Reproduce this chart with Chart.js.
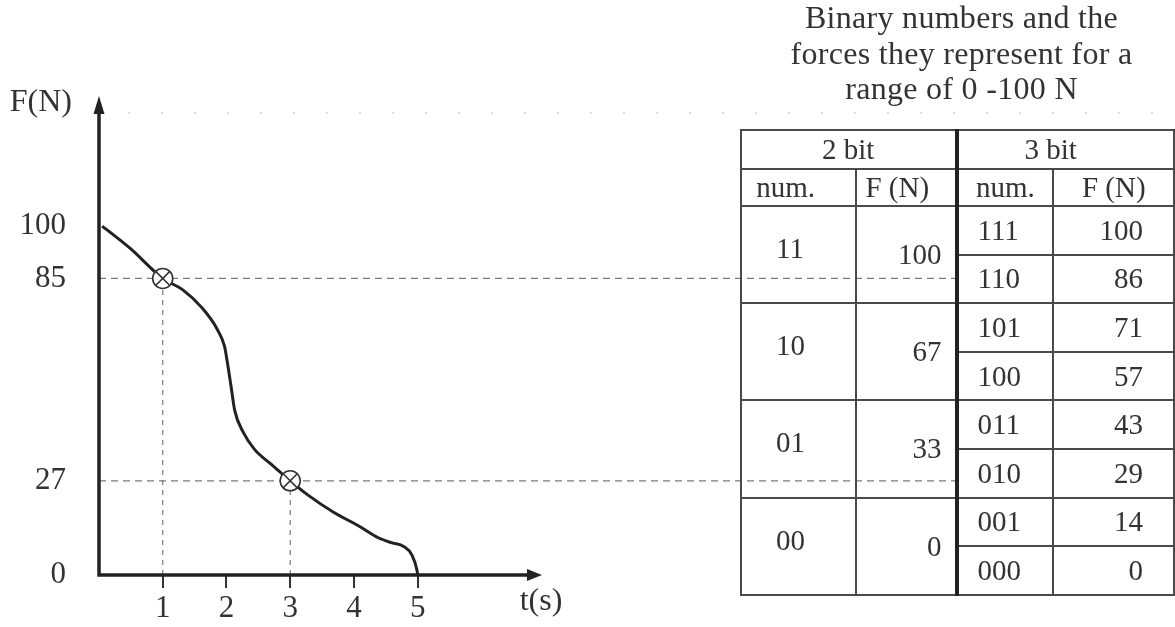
<!DOCTYPE html>
<html>
<head>
<meta charset="utf-8">
<script src="https://cdn.jsdelivr.net/npm/chart.js@4.4.1/dist/chart.umd.min.js"></script>
<style>
  html, body { margin: 0; padding: 0; background: #fff; }
  #wrap { position: relative; width: 1175px; height: 627px; overflow: hidden; }
  #forceChart { position: absolute; left: 0; top: 0; }
  #caption {
    position: absolute; left: 761px; top: 0; width: 401px;
    text-align: center; color: #333;
    font: 32px/35.5px 'Liberation Serif', 'Times New Roman', serif;
    letter-spacing: 0.3px;
  }
  #bits {
    position: absolute; left: 740px; top: 129px;
    border-collapse: collapse; table-layout: fixed;
    font: 29px 'Liberation Serif', 'Times New Roman', serif; color: #333;
  }
  #bits td { border: 2px solid #4a4a4a; padding: 0; vertical-align: middle; white-space: nowrap; line-height: 1; }
  #bits td.mid { border-left: 4px solid #222; }
  #bits tr.head { height: 39px; }
  #bits tr.sub { height: 37px; }
  #bits tr.row { height: 48.6px; }
  .h2 { text-align: center; }
  .h3 { text-align: center; padding-right: 30px !important; }
  .s2n { text-align: center; padding-right: 26px !important; }
  .s2f { text-align: center; padding-right: 17px !important; }
  .s3n, .s3f { text-align: center; }
  .n2 { text-align: left; padding-left: 34px !important; padding-bottom: 12px !important; }
  .f2 { text-align: right; padding-right: 13px !important; }
  .n3 { text-align: left; padding-left: 19px !important; }
  .f3 { text-align: right; padding-right: 30px !important; }
</style>
</head>
<body>
<div id="wrap">
  <canvas id="forceChart" width="1175" height="627"></canvas>
  <div id="caption">Binary numbers and the<br>forces they represent for a<br>range of 0 -100 N</div>
  <table id="bits">
    <colgroup>
      <col style="width:116px"><col style="width:101px"><col style="width:98px"><col style="width:122px">
    </colgroup>
    <tbody id="bitsBody">
      <tr class="head"><td class="h2" colspan="2">2 bit</td><td class="h3 mid" colspan="2">3 bit</td></tr>
      <tr class="sub"><td class="s2n">num.</td><td class="s2f">F (N)</td><td class="s3n mid">num.</td><td class="s3f">F (N)</td></tr>
    </tbody>
  </table>
</div>
<script>
// force curve
const forceT = [0.05, 0.49, 1.00, 1.31, 1.61, 1.85, 1.97, 2.01, 2.07, 2.13, 2.26, 2.44, 2.69, 3.00, 3.28, 3.68, 4.07, 4.39, 4.60, 4.78, 4.91, 4.99, 5.00];
const forceN = [100, 93.6, 85, 81.8, 76.7, 70.6, 65.5, 61.4, 54.3, 47.1, 41, 36, 31.9, 27, 22.9, 18, 14.1, 10.6, 9.2, 8.2, 5.7, 1.3, 0];

// sampled points (circled crosses)
const markT = [1, 3];
const markN = [85, 27];

// axis ticks
const tickT = [1, 2, 3, 4, 5];
const tickN = [0, 27, 85, 100];

// table
const twoBitNums = ['11', '10', '01', '00'];
const twoBitForces = [100, 67, 33, 0];
const threeBitNums = ['111', '110', '101', '100', '011', '010', '001', '000'];
const threeBitForces = [100, 86, 71, 57, 43, 29, 14, 0];

const ARROW_T = 6.95;   // where the t axis arrow ends

// build table rows
const body = document.getElementById('bitsBody');
threeBitNums.forEach((num, i) => {
  const tr = document.createElement('tr');
  tr.className = 'row';
  if (i % 2 === 0) {
    const g = i / 2;
    tr.innerHTML += '<td class="n2" rowspan="2">' + twoBitNums[g] + '</td>' +
                    '<td class="f2" rowspan="2">' + twoBitForces[g] + '</td>';
  }
  tr.innerHTML += '<td class="n3 mid">' + num + '</td><td class="f3">' + threeBitForces[i] + '</td>';
  body.appendChild(tr);
});

const ink = '#222';
const serif = "'Liberation Serif', 'Times New Roman', serif";
Chart.defaults.font.family = serif;

const sketchAxes = {
  id: 'sketchAxes',
  beforeDatasetsDraw(chart) {
    const { ctx, chartArea } = chart;
    const xs = chart.scales.x, ys = chart.scales.y;
    const x0 = xs.getPixelForValue(0);
    const wrap = document.getElementById('wrap').getBoundingClientRect();
    const edge = document.querySelector('#bits td.mid').getBoundingClientRect().left - wrap.left + 1;
    ctx.save();
    // faint dotted line along the top (scan)
    ctx.strokeStyle = '#d0d0d0';
    ctx.lineWidth = 1.5;
    ctx.setLineDash([2, 31]);
    ctx.beginPath();
    ctx.moveTo(x0 - 4, chartArea.top + 16);
    ctx.lineTo(chart.width, chartArea.top + 16);
    ctx.stroke();
    // horizontal guides into the table
    ctx.strokeStyle = '#7a7a7a';
    ctx.lineWidth = 1.2;
    ctx.setLineDash([7, 5]);
    markN.forEach(f => {
      const y = ys.getPixelForValue(f);
      ctx.beginPath();
      ctx.moveTo(x0, y);
      ctx.lineTo(edge, y);
      ctx.stroke();
    });
    ctx.restore();
  },
  afterDatasetsDraw(chart) {
    const { ctx, chartArea } = chart;
    const xs = chart.scales.x, ys = chart.scales.y;
    const x0 = xs.getPixelForValue(0), y0 = ys.getPixelForValue(0);
    const xTip = xs.getPixelForValue(ARROW_T);
    const yTip = chartArea.top - 1;
    ctx.save();
    ctx.strokeStyle = ink;
    ctx.fillStyle = ink;
    ctx.lineWidth = 3.5;
    ctx.beginPath();
    ctx.moveTo(x0, y0 + 1.5);
    ctx.lineTo(x0, yTip + 14);
    ctx.moveTo(x0 - 1.5, y0);
    ctx.lineTo(xTip - 12, y0);
    ctx.stroke();
    // arrow heads
    ctx.beginPath();
    ctx.moveTo(x0, yTip);
    ctx.lineTo(x0 - 5.5, yTip + 18);
    ctx.lineTo(x0 + 5.5, yTip + 18);
    ctx.closePath();
    ctx.fill();
    ctx.beginPath();
    ctx.moveTo(xTip, y0);
    ctx.lineTo(xTip - 15, y0 - 6);
    ctx.lineTo(xTip - 15, y0 + 6);
    ctx.closePath();
    ctx.fill();
    // axis names
    ctx.fillStyle = '#333';
    ctx.font = '32px ' + serif;
    ctx.textBaseline = 'middle';
    ctx.textAlign = 'center';
    ctx.fillText('t(s)', xTip - 1, y0 + 27);
    ctx.textAlign = 'right';
    ctx.fillText('F(N)', x0 - 27, chartArea.top + 6);
    ctx.restore();
  }
};

const guideSets = markT.map((t, i) => ({
  data: [{ x: t, y: 0 }, { x: t, y: markN[i] }],
  borderColor: '#7a7a7a',
  borderWidth: 1.2,
  borderDash: [5, 5],
  pointRadius: 0,
  order: 3
}));

const marks = markT.map((t, i) => ({ x: t, y: markN[i] }));

new Chart(document.getElementById('forceChart'), {
  type: 'line',
  data: {
    datasets: [
      {
        data: forceT.map((t, i) => ({ x: t, y: forceN[i] })),
        borderColor: ink,
        borderWidth: 3,
        pointRadius: 0,
        cubicInterpolationMode: 'monotone',
        order: 2
      },
      ...guideSets,
      {
        data: marks,
        showLine: false,
        pointStyle: 'circle',
        pointRadius: 10,
        pointBackgroundColor: '#fff',
        pointBorderColor: '#333',
        pointBorderWidth: 1.6,
        order: 1
      },
      {
        data: marks,
        showLine: false,
        pointStyle: 'crossRot',
        pointRadius: 10,
        pointBorderColor: '#333',
        pointBorderWidth: 1.6,
        order: 0
      }
    ]
  },
  options: {
    responsive: false,
    devicePixelRatio: 1,
    animation: false,
    layout: { padding: { top: 97, right: 0, bottom: 0, left: 0 } },
    plugins: { legend: { display: false }, tooltip: { enabled: false } },
    scales: {
      x: {
        type: 'linear',
        min: 0,
        max: 16.7,
        afterBuildTicks: s => { s.ticks = tickT.map(v => ({ value: v })); },
        afterFit: s => { s.height = 52; },
        border: { display: false },
        grid: { drawOnChartArea: false, drawTicks: true, tickLength: 13, color: '#333', lineWidth: 2 },
        ticks: { color: '#333', padding: 2, font: { size: 31 }, maxRotation: 0 }
      },
      y: {
        type: 'linear',
        min: 0,
        max: 137,
        afterBuildTicks: s => { s.ticks = tickN.map(v => ({ value: v })); },
        afterFit: s => { s.width = 99; },
        border: { display: false },
        grid: { display: false, drawTicks: false },
        ticks: { color: '#333', padding: 33, font: { size: 31 } }
      }
    }
  },
  plugins: [sketchAxes]
});
</script>
</body>
</html>
